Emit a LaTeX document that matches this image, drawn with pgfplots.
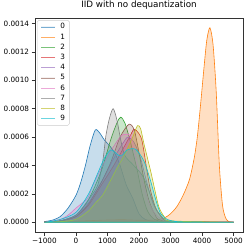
\documentclass[border=0pt]{standalone}
\usepackage{pgfplots}
\pgfplotsset{compat=1.18}
\usepackage{pgfplotstable}
\usepackage{fontspec}
\setmainfont{DejaVu Sans}
\definecolor{c0}{HTML}{1F77B4}
\definecolor{c1}{HTML}{FF7F0E}
\definecolor{c2}{HTML}{2CA02C}
\definecolor{c3}{HTML}{D62728}
\definecolor{c4}{HTML}{9467BD}
\definecolor{c5}{HTML}{8C564B}
\definecolor{c6}{HTML}{E377C2}
\definecolor{c7}{HTML}{7F7F7F}
\definecolor{c8}{HTML}{BCBD22}
\definecolor{c9}{HTML}{17BECF}

\pgfplotstableread{
x y
-1000 0.000005
-750 0.000015
-500 0.00004
-250 0.0001
0 0.00019
150 0.00028
300 0.0004
450 0.00054
613 0.00065
750 0.00063
900 0.00058
1100 0.00053
1250 0.00048
1400 0.0004
1600 0.00026
1800 0.00017
2000 0.00006
2200 0.00002
2500 0.000005
3000 0
5000 0
}\tzero
\pgfplotstableread{
x y
-1000 0
-500 0.000003
0 0.000008
500 0.000012
1000 0.000016
1500 0.000018
2000 0.000014
2500 0.000016
2800 0.00003
3000 0.00006
3200 0.00011
3400 0.00019
3600 0.0003
3750 0.00045
3850 0.0006
3950 0.00082
4050 0.00106
4150 0.00128
4250 0.00137
4350 0.00125
4450 0.00092
4550 0.0004
4650 0.00012
4750 0.00003
4850 0.000005
5000 0
}\tone
\pgfplotstableread{
x y
-1000 0
-500 0.00001
0 0.00005
400 0.00016
800 0.00036
1100 0.00058
1300 0.0007
1420 0.00074
1550 0.0007
1700 0.00059
1800 0.0005
1950 0.00036
2100 0.0002
2270 0.00008
2500 0.00002
3000 0
5000 0
}\ttwo
\pgfplotstableread{
x y
-1000 0
-500 0.00001
0 0.00004
400 0.00012
800 0.00026
1200 0.0004
1500 0.00052
1700 0.0006
1840 0.000655
1980 0.00063
2100 0.00057
2270 0.00034
2370 0.00022
2530 0.0001
2750 0.00003
3000 0.000005
5000 0
}\tthree
\pgfplotstableread{
x y
-1000 0
-500 0.00001
0 0.00005
400 0.00014
800 0.00028
1200 0.00045
1500 0.00056
1650 0.0006
1850 0.00056
2050 0.00045
2250 0.00028
2450 0.00013
2700 0.00004
3000 0.000005
5000 0
}\tfour
\pgfplotstableread{
x y
-1000 0
-500 0.00001
0 0.00004
400 0.00013
800 0.00028
1100 0.00042
1400 0.0006
1680 0.00069
1850 0.00065
2000 0.00049
2160 0.0003
2320 0.00015
2500 0.00006
2800 0.00001
5000 0
}\tfive
\pgfplotstableread{
x y
-1000 0
-500 0.00002
-250 0.00005
0 0.0001
370 0.00017
530 0.00026
800 0.00038
1100 0.0005
1400 0.0006
1550 0.00062
1750 0.0006
1950 0.00041
2150 0.00026
2350 0.00012
2600 0.00004
3000 0.000005
5000 0
}\tsix
\pgfplotstableread{
x y
-1000 0
-500 0.00001
0 0.00005
400 0.00016
688 0.00026
850 0.00043
950 0.00061
1060 0.00073
1180 0.0008
1300 0.00072
1420 0.00058
1550 0.00047
1790 0.00041
2000 0.00036
2160 0.00031
2350 0.0002
2550 0.00009
2800 0.00002
3000 0.000005
5000 0
}\tseven
\pgfplotstableread{
x y
-1000 0
-500 0.000005
0 0.00002
400 0.00008
635 0.00014
846 0.00019
1111 0.0003
1323 0.00039
1550 0.00048
1800 0.0006
1950 0.00068
2050 0.00066
2160 0.00055
2370 0.00036
2530 0.0002
2635 0.000105
2800 0.00004
3000 0.00001
5000 0
}\teight
\pgfplotstableread{
x y
-1000 0
-500 0.00002
0 0.00007
400 0.0002
700 0.00035
900 0.00045
1110 0.00051
1365 0.00047
1480 0.000474
1630 0.00051
1895 0.000514
2159 0.00043
2370 0.00029
2530 0.00016
2689 0.00006
2900 0.00002
3200 0.000005
3800 0.000002
5000 0
}\tnine

\pgfplotsset{
  kde/.style={draw=#1, fill=#1, fill opacity=0.25, line width=0.6bp, smooth, tension=0.45, mark=none},
}

\begin{document}
\begin{tikzpicture}
\useasboundingbox (-35bp,-18bp) rectangle (215bp,232bp);
\begin{axis}[
  at={(0,0)}, anchor=south west,
  scale only axis, width=208bp, height=214bp,
  xmin=-1300, xmax=5300, ymin=-0.0000685, ymax=0.0014385,
  axis line style={black!80, line width=0.5bp},
  tick style={black!80, line width=0.5bp},
  tick align=outside, major tick length=3.5bp,
  xtick pos=bottom, ytick pos=left,
  xtick={-1000,0,1000,2000,3000,4000,5000},
  xticklabels={−1000,0,1000,2000,3000,4000,5000},
  ytick={0,0.0002,0.0004,0.0006,0.0008,0.001,0.0012,0.0014},
  yticklabels={0.0000,0.0002,0.0004,0.0006,0.0008,0.0010,0.0012,0.0014},
  scaled y ticks=false, scaled x ticks=false,
  tick label style={font=\fontsize{7.3}{8}\selectfont, inner sep=1bp},
  xticklabel style={yshift=-1.2bp},
  yticklabel style={xshift=-1.2bp},
  title={IID with no dequantization},
  title style={font=\fontsize{8.8}{10}\selectfont, at={(0.5,1)}, anchor=south, yshift=1.5bp, inner sep=1bp},
  legend style={at={(0.01,0.99)}, anchor=north west, font=\fontsize{7.3}{8}\selectfont,
    draw=black!20, rounded corners=1.5bp, fill=white, fill opacity=0.8, text opacity=1,
    row sep=0pt, inner xsep=3.5bp, inner ysep=1.5bp,
    nodes={inner sep=0.8bp, minimum height=10.2bp},
    /tikz/every odd column/.style={column sep=4bp}},
  legend cell align=left,
  legend image code/.code={\draw[#1, opacity=0.6, line width=0.8bp] (0bp,0bp) -- (14bp,0bp);},
]
\addplot[kde=c0] table {\tzero} \closedcycle;
\addlegendentry{0}
\addplot[kde=c1] table {\tone} \closedcycle;
\addlegendentry{1}
\addplot[kde=c2] table {\ttwo} \closedcycle;
\addlegendentry{2}
\addplot[kde=c3] table {\tthree} \closedcycle;
\addlegendentry{3}
\addplot[kde=c4] table {\tfour} \closedcycle;
\addlegendentry{4}
\addplot[kde=c5] table {\tfive} \closedcycle;
\addlegendentry{5}
\addplot[kde=c6] table {\tsix} \closedcycle;
\addlegendentry{6}
\addplot[kde=c7] table {\tseven} \closedcycle;
\addlegendentry{7}
\addplot[kde=c8] table {\teight} \closedcycle;
\addlegendentry{8}
\addplot[kde=c9] table {\tnine} \closedcycle;
\addlegendentry{9}
\end{axis}
\end{tikzpicture}
\end{document}
